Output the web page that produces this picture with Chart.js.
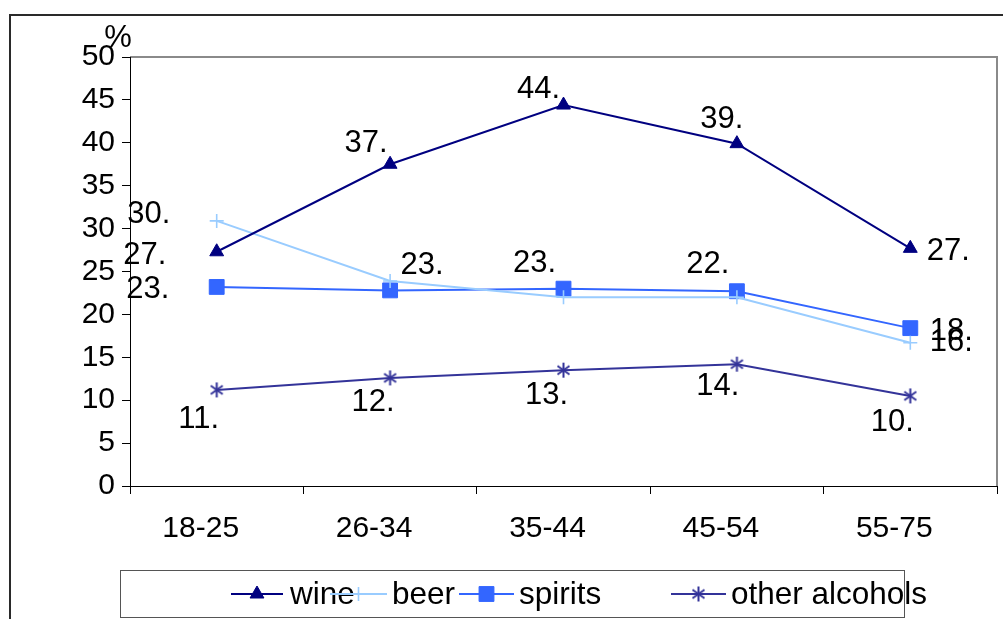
<!DOCTYPE html>
<html>
<head>
<meta charset="utf-8">
<script src="https://cdn.jsdelivr.net/npm/chart.js@4/dist/chart.umd.min.js"></script>
<style>
  html, body { margin: 0; padding: 0; background: #fff; }
  canvas { display: block; }
</style>
</head>
<body>
<canvas id="chart" width="1003" height="619"></canvas>
<script>
// Share of drinkers by age group (%)
const ageGroups = ['18-25', '26-34', '35-44', '45-54', '55-75'];
const wine = [27.3, 37.5, 44.4, 39.9, 27.7];
const beer = [30.9, 23.9, 22.0, 22.0, 16.7];
const spirits = [23.2, 22.8, 23.0, 22.7, 18.4];
const otherAlcohols = [11.2, 12.6, 13.5, 14.2, 10.5];
const yTicks = [0, 5, 10, 15, 20, 25, 30, 35, 40, 45, 50];

const FONT = '"Liberation Sans", Arial, sans-serif';

// Where each value label sits relative to its point (null = not shown)
const labelOffsets = [
  [[-72, 4], [-24, -21], [-25, -16], [-15, -24], [38, 3]],
  [[-68, -6], [32, -15], null, null, [41, 0]],
  [[-69, 3], null, [-29, -25], [-29, -27], [41, 3]],
  [[-18, 30], [-17, 25], [-17, 25], [-19, 22], [-18, 27]]
];

// Asterisk marker: one upright stroke crossed by an X
function asteriskMarker(color, r) {
  const size = 2 * r + 4;
  const c = document.createElement('canvas');
  c.width = size; c.height = size;
  const g = c.getContext('2d');
  const m = size / 2;
  g.strokeStyle = color;
  g.lineWidth = 2;
  g.beginPath();
  g.moveTo(m, m - r); g.lineTo(m, m + r);
  const d = r * 0.8;
  g.moveTo(m - d, m - d * 0.7); g.lineTo(m + d, m + d * 0.7);
  g.moveTo(m - d, m + d * 0.7); g.lineTo(m + d, m - d * 0.7);
  g.stroke();
  return c;
}

const frameAndLabels = {
  id: 'frameAndLabels',
  beforeDraw(chart) {
    const ctx = chart.ctx;
    const a = chart.chartArea;
    ctx.save();
    ctx.fillStyle = '#fff';
    ctx.fillRect(0, 0, chart.width, chart.height);
    // outer frame
    ctx.strokeStyle = '#2a2a2a';
    ctx.lineWidth = 2;
    ctx.beginPath();
    ctx.moveTo(10, chart.height);
    ctx.lineTo(10, 15);
    ctx.lineTo(chart.width, 15);
    ctx.stroke();
    // plot area border (top and right)
    ctx.strokeStyle = '#8a8a8a';
    ctx.lineWidth = 2;
    ctx.beginPath();
    ctx.moveTo(a.left, a.top);
    ctx.lineTo(a.right, a.top);
    ctx.lineTo(a.right, a.bottom);
    ctx.stroke();
    // unit label
    ctx.fillStyle = '#000';
    ctx.font = '31px ' + FONT;
    ctx.textAlign = 'center';
    ctx.textBaseline = 'middle';
    ctx.fillText('%', 118, 38);
    ctx.restore();
  },
  afterDatasetsDraw(chart) {
    const ctx = chart.ctx;
    ctx.save();
    ctx.fillStyle = '#000';
    ctx.font = '31px ' + FONT;
    ctx.textAlign = 'center';
    ctx.textBaseline = 'middle';
    chart.data.datasets.forEach((ds, di) => {
      const meta = chart.getDatasetMeta(di);
      meta.data.forEach((pt, i) => {
        const off = labelOffsets[di][i];
        if (!off) return;
        const txt = Math.trunc(ds.data[i]) + '.';
        ctx.fillText(txt, pt.x + off[0], pt.y + off[1]);
      });
    });
    ctx.restore();
  },
  afterDraw(chart) {
    // legend box
    const ctx = chart.ctx;
    ctx.save();
    ctx.strokeStyle = '#555';
    ctx.lineWidth = 1;
    ctx.strokeRect(120.5, 570.5, 784, 47);
    const items = [
      { line: [231, 283], text: 290 },
      { line: [330, 387], text: 392 },
      { line: [459, 514], text: 519 },
      { line: [671, 726], text: 731 }
    ];
    const y = 594;
    ctx.font = '31.5px ' + FONT;
    ctx.textBaseline = 'middle';
    ctx.textAlign = 'left';
    chart.data.datasets.forEach((ds, di) => {
      const it = items[di];
      ctx.strokeStyle = ds.borderColor;
      ctx.lineWidth = 2;
      ctx.beginPath();
      ctx.moveTo(it.line[0], y);
      ctx.lineTo(it.line[1], y);
      ctx.stroke();
      const mx = (it.line[0] + it.line[1]) / 2;
      ctx.fillStyle = ds.pointBackgroundColor;
      ctx.strokeStyle = ds.pointBorderColor;
      ctx.lineWidth = ds.pointBorderWidth;
      Chart.helpers.drawPoint(ctx, {
        pointStyle: ds.pointStyle,
        radius: ds.pointRadius,
        rotation: 0,
        borderWidth: ds.pointBorderWidth
      }, mx, y);
      ctx.fillStyle = '#000';
      ctx.fillText(ds.label, it.text, y + 1);
    });
    ctx.restore();
  }
};

const series = [
  { label: 'wine', data: wine, color: '#000080', style: 'triangle', radius: 8, bw: 1 },
  { label: 'beer', data: beer, color: '#99CCFF', style: 'cross', radius: 7, bw: 1.6 },
  { label: 'spirits', data: spirits, color: '#3366FF', style: 'rect', radius: 10.5, bw: 1 },
  { label: 'other alcohols', data: otherAlcohols, color: '#333399', style: asteriskMarker('#333399', 7.5), radius: 7.5, bw: 1.6 }
];

new Chart(document.getElementById('chart'), {
  type: 'line',
  data: {
    labels: ageGroups,
    datasets: series.map(s => ({
      label: s.label,
      data: s.data,
      borderColor: s.color,
      backgroundColor: s.color,
      pointBackgroundColor: s.color,
      pointBorderColor: s.color,
      pointStyle: s.style,
      pointRadius: s.radius,
      pointBorderWidth: s.bw,
      borderWidth: 2,
      tension: 0,
      fill: false
    }))
  },
  options: {
    responsive: false,
    devicePixelRatio: 1,
    animation: false,
    events: [],
    layout: { autoPadding: false, padding: { left: 0, top: 57, right: 6, bottom: 0 } },
    plugins: {
      legend: { display: false },
      tooltip: { enabled: false },
      title: { display: false }
    },
    scales: {
      x: {
        type: 'category',
        offset: true,
        grid: {
          offset: true,
          drawOnChartArea: false,
          drawTicks: true,
          tickLength: 8,
          color: '#000'
        },
        border: { color: '#000', width: 1 },
        ticks: {
          color: '#000',
          font: { family: FONT, size: 30 },
          padding: 17,
          labelOffset: -16,
          maxRotation: 0,
          autoSkip: false
        },
        afterFit(scale) {
          scale.height = 133;
          scale.paddingLeft = 0;
          scale.paddingRight = 0;
        }
      },
      y: {
        min: 0,
        max: 50,
        grid: {
          drawOnChartArea: false,
          drawTicks: true,
          tickLength: 8,
          color: '#000'
        },
        border: { color: '#000', width: 1 },
        afterBuildTicks(scale) { scale.ticks = yTicks.map(v => ({ value: v })); },
        ticks: {
          color: '#000',
          font: { family: FONT, size: 30 },
          padding: 7
        },
        afterFit(scale) {
          scale.width = 130;
          scale.paddingLeft = 0;
          scale.paddingRight = 0;
        }
      }
    }
  },
  plugins: [frameAndLabels]
});
</script>
</body>
</html>
